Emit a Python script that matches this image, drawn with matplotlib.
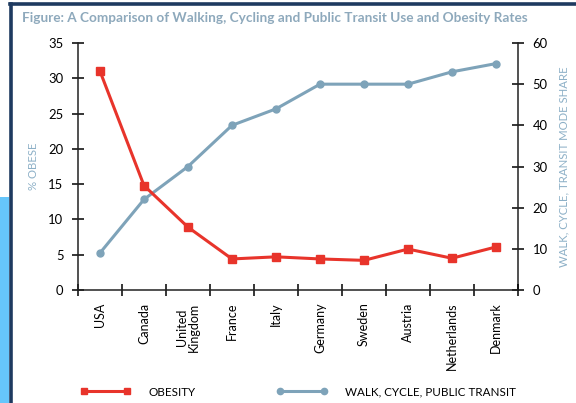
import matplotlib
matplotlib.use("Agg")
import numpy as np
import matplotlib.pyplot as plt
from matplotlib.patches import Rectangle
from matplotlib.lines import Line2D

# data
countries = ["USA", "Canada", "United\nKingdom", "France", "Italy", "Germany",
             "Sweden", "Austria", "Netherlands", "Denmark"]
obesity = [31.0, 14.8, 8.9, 4.4, 4.7, 4.4, 4.2, 5.8, 4.5, 6.1]
active_share = [9, 22, 30, 40, 44, 50, 50, 50, 53, 55]

red = "#e8342b"
steel = "#7ea3b9"
label_blue = "#8db0c7"
navy = "#1e3a60"

plt.rcParams['font.family'] = ['Lato', 'DejaVu Sans']

fig = plt.figure(figsize=(5.76, 4.03), dpi=100)
W, H = 576, 403

# page frame and side strip
fig.add_artist(Rectangle((0, 0), 9 / W, 1 - 197 / H, transform=fig.transFigure,
                         color="#66c6fb", lw=0, zorder=0))
fig.add_artist(Line2D([11 / W, 11 / W], [0, 1 - 4 / H], transform=fig.transFigure,
                      color=navy, lw=2.6))
fig.add_artist(Line2D([10 / W, 1], [1 - 4 / H, 1 - 4 / H], transform=fig.transFigure,
                      color=navy, lw=2.6))

fig.text(22 / W, 1 - 18 / H,
         "Figure: A Comparison of Walking, Cycling and Public Transit Use and Obesity Rates",
         color="#8ea9bc", fontsize=9.8, fontweight="bold", va="center", ha="left")

ax = fig.add_axes([78 / W, 1 - 290 / H, (518 - 78) / W, (290 - 43) / H])
ax2 = ax.twinx()

x = np.arange(len(countries))
l1, = ax.plot(x, obesity, color=red, lw=2.2, marker="s", ms=5.5, zorder=3,
              label="OBESITY")
l2, = ax2.plot(x, active_share, color=steel, lw=2.2, marker="o", ms=5, zorder=2,
               label="WALK, CYCLE, PUBLIC TRANSIT")
ax.set_zorder(ax2.get_zorder() + 1)
ax.patch.set_visible(False)

ax.set_xlim(-0.5, len(countries) - 0.5)
ax.set_ylim(0, 35)
ax2.set_ylim(0, 60)
ax.set_yticks(np.arange(0, 36, 5))
ax2.set_yticks(np.arange(0, 61, 10))

ax.set_xticks(x)
ax.set_xticklabels(countries, rotation=90, fontsize=9, linespacing=0.95)
ax.set_xticks(np.arange(-0.5, len(countries), 1), minor=True)
ax.tick_params(axis="x", which="major", length=0, pad=9)
ax.tick_params(axis="x", which="minor", direction="inout", length=9, width=1.1)

for a in (ax, ax2):
    a.spines["top"].set_visible(False)
    for s in ("left", "right", "bottom"):
        a.spines[s].set_linewidth(1.1)
        a.spines[s].set_color("#222222")
ax.spines["right"].set_visible(False)
ax2.spines["left"].set_visible(False)
ax2.spines["bottom"].set_visible(False)

ax.tick_params(axis="y", direction="inout", length=9, width=1.1, labelsize=9.4, pad=6)
ax2.tick_params(axis="y", direction="inout", length=9, width=1.1, labelsize=9.4, pad=6)

ax.set_ylabel("% OBESE", color=label_blue, fontsize=8.2, labelpad=7)
ax2.set_ylabel("WALK, CYCLE, TRANSIT MODE SHARE", color=label_blue, fontsize=8.2,
               rotation=90, labelpad=8)

fig.legend(handles=[l1, l2], loc="center left", bbox_to_anchor=(70 / W, 1 - 392 / H),
           ncol=2, frameon=False, numpoints=2, handlelength=4.3, handletextpad=1.5,
           columnspacing=7.0, fontsize=8.4, markerscale=0.9)

fig.savefig("out.png", dpi=100)
